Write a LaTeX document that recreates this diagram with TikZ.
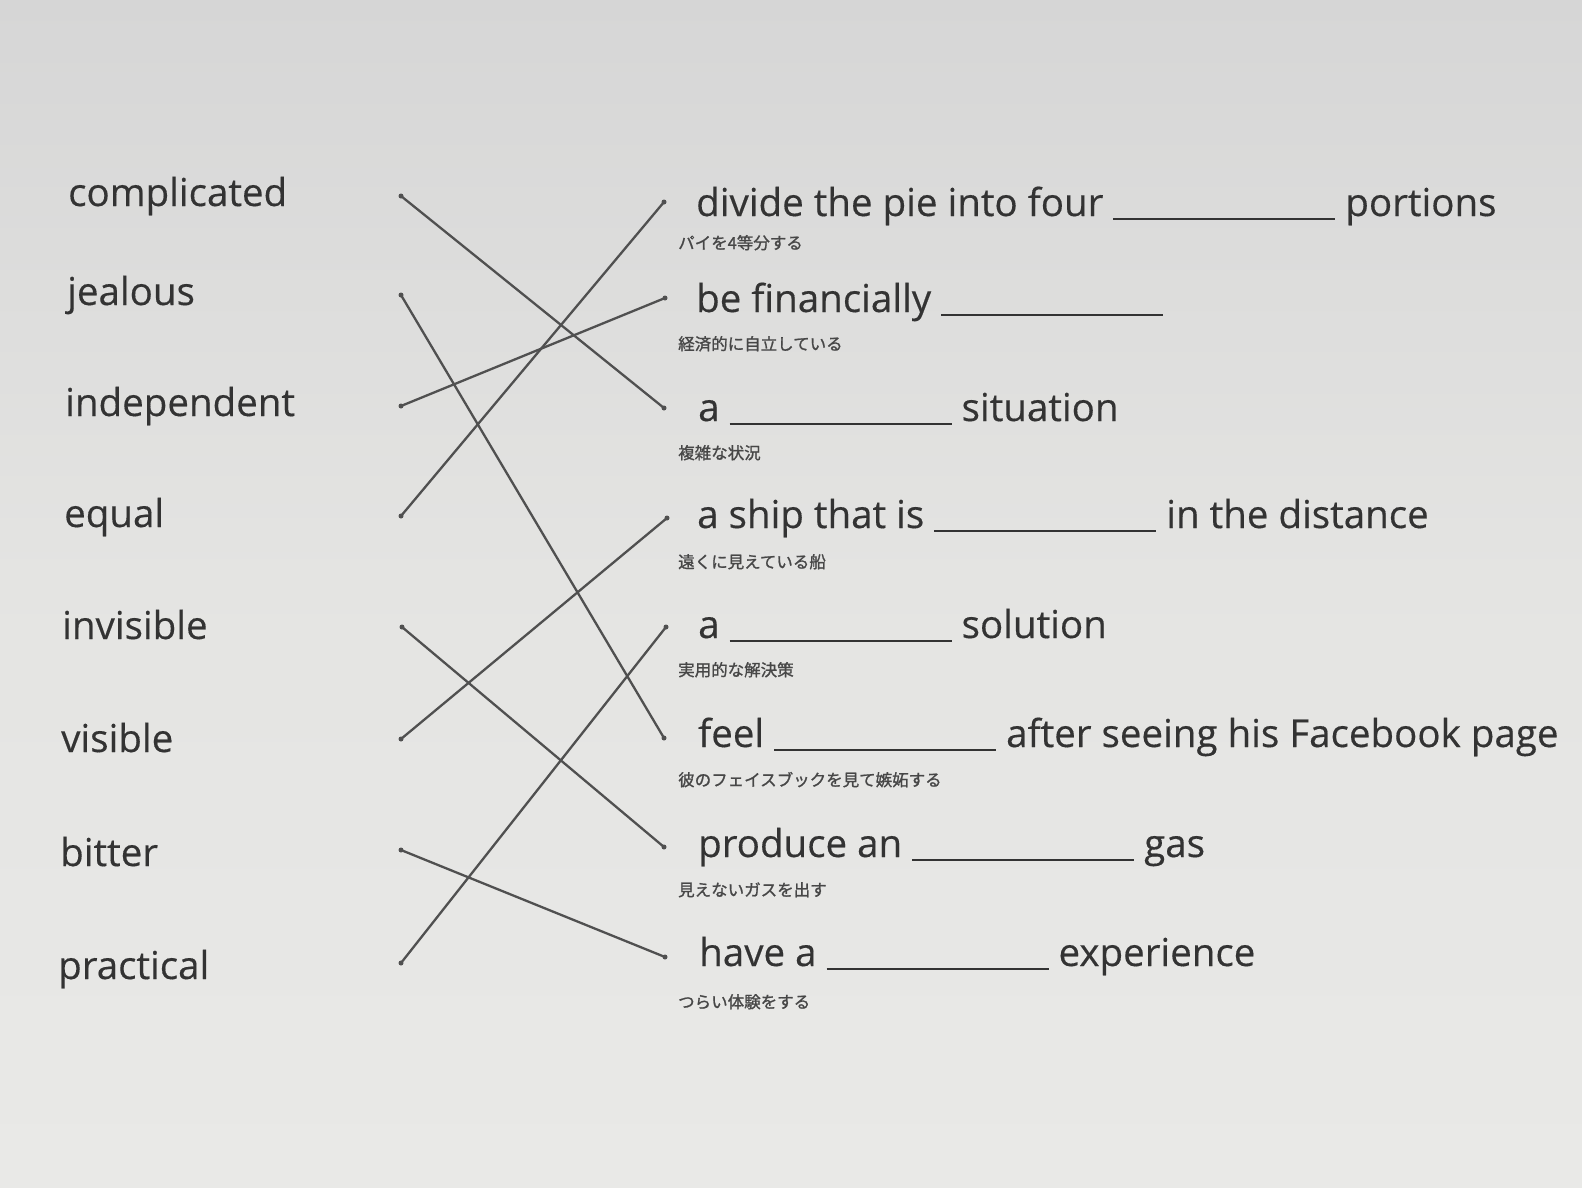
\documentclass[tikz,border=0pt]{standalone}
\usepackage{fontspec}
\setmainfont{Open Sans}[FakeBold=0.35,AutoFakeBold=0.35]
\newfontfamily\cjk{Noto Sans CJK JP}[FakeBold=1.2,AutoFakeBold=1.2]
\definecolor{ink}{HTML}{333333}
\definecolor{lineink}{HTML}{505050}
\definecolor{papertop}{HTML}{D6D6D6}
\definecolor{paperbot}{HTML}{E9E9E7}
\newcommand{\blankline}{\rule[-4pt]{222pt}{2.2pt}}
\begin{document}
\begin{tikzpicture}[x=1pt,y=-1pt,
  word/.style={anchor=base west,inner sep=0pt,text=ink,font=\fontsize{38.5}{44}\selectfont\bfseries},
  jp/.style={anchor=base west,inner sep=0pt,text=ink!90,font=\cjk\fontsize{16.5}{20}\selectfont\bfseries},
  dotnode/.style={circle,fill=lineink,inner sep=0pt,minimum size=5pt},
  link/.style={draw=lineink,line width=2.3pt,line cap=round}]
\useasboundingbox (0,0) rectangle (1582,1187);
\shade[top color=papertop,bottom color=paperbot,middle color=paperbot!98!black] (0,0) rectangle (1582,1187);
% left words
\node[word] (l1) at (68,206) {complicated};
\node[word] (l2) at (67,305) {jealous};
\node[word] (l3) at (65,416) {independent};
\node[word] (l4) at (64,527) {equal};
\node[word] (l5) at (62,639) {invisible};
\node[word] (l6) at (61,752) {visible};
\node[word] (l7) at (60,866) {bitter};
\node[word] (l8) at (58,979) {practical};
% left dots
\node[dotnode] (dl1) at (401,196) {};
\node[dotnode] (dl2) at (401,295) {};
\node[dotnode] (dl3) at (401,406) {};
\node[dotnode] (dl4) at (401,516) {};
\node[dotnode] (dl5) at (402,627) {};
\node[dotnode] (dl6) at (401,739) {};
\node[dotnode] (dl7) at (401,850) {};
\node[dotnode] (dl8) at (401,963) {};
% right dots
\node[dotnode] (dr1) at (664,202) {};
\node[dotnode] (dr2) at (665,298) {};
\node[dotnode] (dr3) at (664,408) {};
\node[dotnode] (dr4) at (667,518) {};
\node[dotnode] (dr5) at (666,627) {};
\node[dotnode] (dr6) at (664,738) {};
\node[dotnode] (dr7) at (664,847) {};
\node[dotnode] (dr8) at (665,957) {};
% right phrases
\node[word] (r1) at (696,216) {divide the pie into four \blankline{} portions};
\node[word] (r2) at (696,312) {be financially \blankline};
\node[word] (r3) at (698,421) {a \blankline{} situation};
\node[word] (r4) at (697,528) {a ship that is \blankline{} in the distance};
\node[word] (r5) at (698,638) {a \blankline{} solution};
\node[word] (r6) at (698,747) {feel \blankline{} after seeing his Facebook page};
\node[word] (r7) at (698,857) {produce an \blankline{} gas};
\node[word] (r8) at (699,966) {have a \blankline{} experience};
% japanese glosses
\node[jp] (j1) at (678,249) {パイを4等分する};
\node[jp] (j2) at (678,350) {経済的に自立している};
\node[jp] (j3) at (678,459) {複雑な状況};
\node[jp] (j4) at (678,568) {遠くに見えている船};
\node[jp] (j5) at (678,676) {実用的な解決策};
\node[jp] (j6) at (678,786) {彼のフェイスブックを見て嫉妬する};
\node[jp] (j7) at (678,896) {見えないガスを出す};
\node[jp] (j8) at (678,1008) {つらい体験をする};
% connections
\draw[link] (dl1.center) -- (dr3.center);
\draw[link] (dl2.center) -- (dr6.center);
\draw[link] (dl3.center) -- (dr2.center);
\draw[link] (dl4.center) -- (dr1.center);
\draw[link] (dl5.center) -- (dr7.center);
\draw[link] (dl6.center) -- (dr4.center);
\draw[link] (dl7.center) -- (dr8.center);
\draw[link] (dl8.center) -- (dr5.center);
\end{tikzpicture}
\end{document}
